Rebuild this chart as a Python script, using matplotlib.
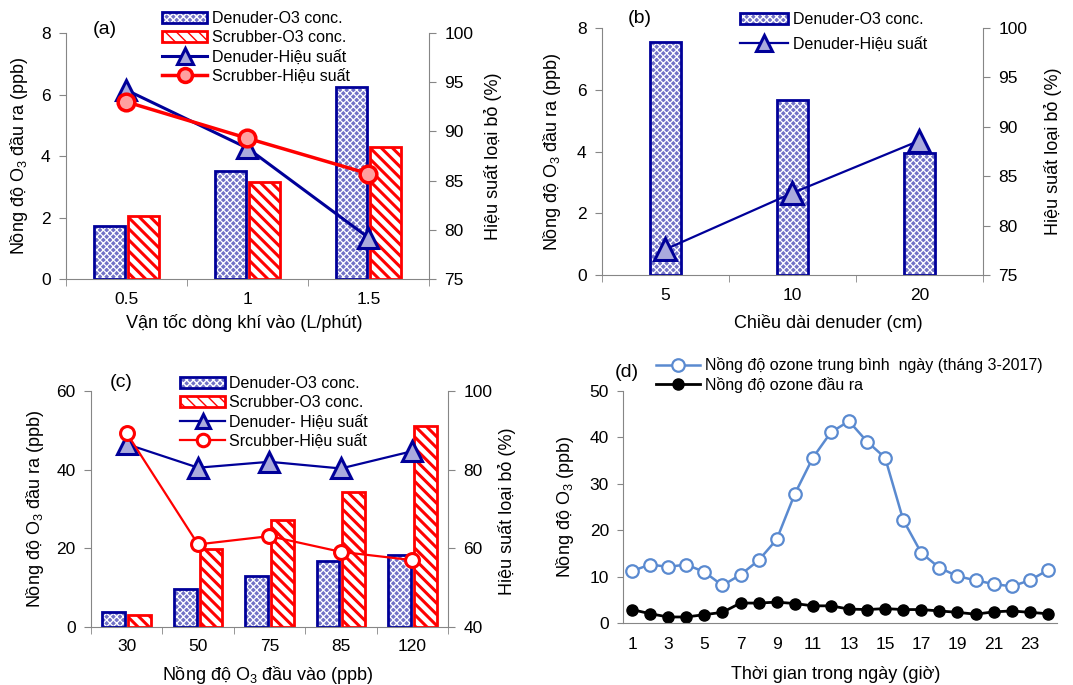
#!/usr/bin/env python3
import matplotlib
matplotlib.use('Agg')
import matplotlib.pyplot as plt
from matplotlib.lines import Line2D
from matplotlib.patches import Patch
import numpy as np

plt.rcParams['font.family'] = ['Liberation Sans', 'DejaVu Sans']
plt.rcParams['mathtext.fontset'] = 'custom'
plt.rcParams['mathtext.rm'] = 'Liberation Sans'
plt.rcParams['mathtext.it'] = 'Liberation Sans:italic'
plt.rcParams['mathtext.bf'] = 'Liberation Sans:bold'

# ---- data ----
# (a) flow rate
flow_labels = ['0.5', '1', '1.5']
flow_den_conc = [1.72, 3.5, 6.24]
flow_scr_conc = [2.05, 3.15, 4.28]
flow_den_eff = [94.2, 88.3, 79.2]
flow_scr_eff = [93.0, 89.3, 85.7]

# (b) denuder length
len_labels = ['5', '10', '20']
len_den_conc = [7.54, 5.66, 3.94]
len_den_eff = [77.6, 83.3, 88.6]

# (c) inlet concentration
inlet_labels = ['30', '50', '75', '85', '120']
inlet_den_conc = [3.8, 9.75, 13.05, 16.8, 18.2]
inlet_scr_conc = [3.0, 19.7, 27.1, 34.3, 51.0]
inlet_den_eff = [86.5, 80.5, 82.0, 80.3, 84.7]
inlet_scr_eff = [89.3, 61.0, 63.1, 59.1, 57.0]

# (d) daily profile
hours = list(range(1, 25))
ozone_mean = [11.2, 12.6, 12.1, 12.6, 11.0, 8.1, 10.4, 13.5, 18.0, 27.8, 35.6, 41.1,
              43.5, 39.1, 35.6, 22.2, 15.1, 11.9, 10.1, 9.2, 8.4, 7.9, 9.2, 11.4]
ozone_out = [2.9, 2.0, 1.3, 1.3, 1.8, 2.3, 4.3, 4.3, 4.5, 4.2, 3.7, 3.7,
             3.0, 2.9, 3.1, 2.9, 2.9, 2.6, 2.3, 1.9, 2.4, 2.6, 2.3, 2.0]

NAVY = '#000099'
RED = '#ff0000'
SPINE = '#868686'
DEN_FACE = '#7272c6'
TRI_FACE = '#aaaadd'
CIR_FACE = '#ffa0a0'
TICK_FS = 12.5
LAB_FS = 13
LEG_FS = 11.5

YL = 'Nồng độ O$_\\mathregular{3}$ đầu ra (ppb)'
YR = 'Hiệu suất loại bỏ (%)'

fig = plt.figure(figsize=(10.73, 6.85), dpi=100)


def den_bars(ax, x, h, w):
    with plt.rc_context({'hatch.linewidth': 0.9}):
        ax.bar(x, h, w, color=DEN_FACE, edgecolor='white', hatch='xxxxx', linewidth=0)
    ax.bar(x, h, w, fill=False, edgecolor=NAVY, linewidth=2)


def scr_bars(ax, x, h, w):
    with plt.rc_context({'hatch.linewidth': 2.2}):
        ax.bar(x, h, w, color='white', edgecolor=RED, hatch='\\\\\\', linewidth=2)


def den_handle():
    with plt.rc_context({'hatch.linewidth': 0.9}):
        p1 = Patch(facecolor=DEN_FACE, edgecolor='white', hatch='xxxxx', linewidth=0)
    p2 = Patch(fill=False, edgecolor=NAVY, linewidth=2)
    return (p1, p2)


def scr_handle():
    with plt.rc_context({'hatch.linewidth': 2.2}):
        return Patch(facecolor='white', edgecolor=RED, hatch='\\\\\\', linewidth=2)


def style_cat(ax, ax2, n, yl, yr, ylab_pos, yrlab_pos, xlab_pos):
    ax.set_xlim(-0.5, n - 0.5)
    ax.set_xticks(range(n))
    ax.set_xticks(np.arange(-0.5, n, 1.0), minor=True)
    ax.tick_params(axis='x', which='major', length=0, pad=9, labelsize=TICK_FS)
    ax.tick_params(axis='x', which='minor', length=5, color=SPINE, direction='out')
    ax.tick_params(axis='y', length=5, color=SPINE, pad=6, labelsize=TICK_FS)
    ax2.tick_params(axis='y', length=5, color=SPINE, pad=6, labelsize=TICK_FS)
    for s in ['top', 'right']:
        ax.spines[s].set_visible(False)
    for s in ['left', 'bottom']:
        ax.spines[s].set_color(SPINE)
    for s in ['top', 'left', 'bottom']:
        ax2.spines[s].set_visible(False)
    ax2.spines['right'].set_color(SPINE)
    ax.set_ylabel(yl, fontsize=LAB_FS)
    ax2.set_ylabel(yr, fontsize=LAB_FS)
    ax.yaxis.set_label_coords(*ylab_pos)
    ax2.yaxis.set_label_coords(*yrlab_pos)
    ax.xaxis.set_label_coords(*xlab_pos)


def tri(color, ms, lw):
    return dict(color=color, lw=lw, marker='^', ms=ms, mfc=TRI_FACE, mec=color, mew=2.2)


# ---------------- (a) ----------------
axa = fig.add_axes([0.0615, 0.5927, 0.3383, 0.3591])
axa2 = axa.twinx()
xa = np.arange(len(flow_labels))
den_bars(axa, xa - 0.14, flow_den_conc, 0.25)
scr_bars(axa, xa + 0.14, flow_scr_conc, 0.25)
axa2.plot(xa, flow_den_eff, **tri(NAVY, 15, 2.2))
axa2.plot(xa, flow_scr_eff, color=RED, lw=2.5, marker='o', ms=12, mfc=CIR_FACE, mec=RED, mew=2.5)
axa.set_ylim(0, 8)
axa.set_yticks([0, 2, 4, 6, 8])
axa2.set_ylim(75, 100)
axa2.set_yticks([75, 80, 85, 90, 95, 100])
axa.set_xticklabels(flow_labels)
axa.set_xlabel('Vận tốc dòng khí vào (L/phút)', fontsize=LAB_FS)
style_cat(axa, axa2, 3, YL, YR, (-0.099, 0.5), (1.152, 0.5), (0.49, -0.142))
axa.text(0.074, 1.016, '(a)', transform=axa.transAxes, fontsize=14, va='center')
ha = [den_handle(), scr_handle(),
      Line2D([], [], **tri(NAVY, 11, 2.2)),
      Line2D([], [], color=RED, lw=2.5, marker='o', ms=10, mfc=CIR_FACE, mec=RED, mew=2.5)]
axa2.legend(ha, ['Denuder-O3 conc.', 'Scrubber-O3 conc.', 'Denuder-Hiệu suất', 'Scrubber-Hiệu suất'],
            loc='upper left', bbox_to_anchor=(0.264, 1.088), frameon=False, fontsize=LEG_FS,
            handlelength=2.85, handleheight=0.7, handletextpad=0.3, labelspacing=0.25,
            borderpad=0, borderaxespad=0)

# ---------------- (b) ----------------
axb = fig.add_axes([0.561, 0.5985, 0.355, 0.3606])
axb2 = axb.twinx()
xb = np.arange(len(len_labels))
den_bars(axb, xb, len_den_conc, 0.245)
axb2.plot(xb, len_den_eff, **tri(NAVY, 16, 1.6))
axb.set_ylim(0, 8)
axb.set_yticks([0, 2, 4, 6, 8])
axb2.set_ylim(75, 100)
axb2.set_yticks([75, 80, 85, 90, 95, 100])
axb.set_xticklabels(len_labels)
axb.set_xlabel('Chiều dài denuder (cm)', fontsize=LAB_FS)
style_cat(axb, axb2, 3, YL, YR, (-0.102, 0.5), (1.160, 0.5), (0.593, -0.158))
axb.text(0.068, 1.04, '(b)', transform=axb.transAxes, fontsize=14, va='center')
hb = [den_handle(), Line2D([], [], **tri(NAVY, 11, 1.6))]
axb2.legend(hb, ['Denuder-O3 conc.', 'Denuder-Hiệu suất'],
            loc='upper left', bbox_to_anchor=(0.363, 1.065), frameon=False, fontsize=LEG_FS,
            handlelength=3.0, handleheight=0.7, handletextpad=0.3, labelspacing=0.6,
            borderpad=0, borderaxespad=0)

# ---------------- (c) ----------------
axc = fig.add_axes([0.0848, 0.0847, 0.3327, 0.3445])
axc2 = axc.twinx()
xc = np.arange(len(inlet_labels))
den_bars(axc, xc - 0.18, inlet_den_conc, 0.32)
scr_bars(axc, xc + 0.18, inlet_scr_conc, 0.32)
axc2.plot(xc, inlet_den_eff, **tri(NAVY, 14, 1.6))
axc2.plot(xc, inlet_scr_eff, color=RED, lw=1.6, marker='o', ms=10, mfc='white', mec=RED, mew=2.2)
axc.set_ylim(0, 60)
axc.set_yticks([0, 20, 40, 60])
axc2.set_ylim(40, 100)
axc2.set_yticks([40, 60, 80, 100])
axc.set_xticklabels(inlet_labels)
axc.set_xlabel('Nồng độ O$_\\mathregular{3}$ đầu vào (ppb)', fontsize=LAB_FS)
style_cat(axc, axc2, 5, YL, YR, (-0.125, 0.5), (1.140, 0.49), (0.496, -0.157))
axc.text(0.053, 1.034, '(c)', transform=axc.transAxes, fontsize=14, va='center')
hc = [den_handle(), scr_handle(),
      Line2D([], [], **tri(NAVY, 10, 1.6)),
      Line2D([], [], color=RED, lw=1.6, marker='o', ms=9, mfc='white', mec=RED, mew=2.2)]
axc2.legend(hc, ['Denuder-O3 conc.', 'Scrubber-O3 conc.', 'Denuder- Hiệu suất', 'Srcubber-Hiệu suất'],
            loc='upper left', bbox_to_anchor=(0.25, 1.062), frameon=False, fontsize=LEG_FS,
            handlelength=2.8, handleheight=0.7, handletextpad=0.25, labelspacing=0.25,
            borderpad=0, borderaxespad=0)

# ---------------- (d) ----------------
axd = fig.add_axes([0.5806, 0.0905, 0.4044, 0.3387])
axd.plot(hours, ozone_mean, color='#5a8ad0', lw=1.8, marker='o', ms=9, mfc='white',
         mec='#5a8ad0', mew=1.6, label='Nồng độ ozone trung bình  ngày (tháng 3-2017)')
axd.plot(hours, ozone_out, color='black', lw=2, marker='o', ms=8, mfc='black', mec='black',
         label='Nồng độ ozone đầu ra')
axd.set_xlim(0.5, 24.5)
axd.set_ylim(0, 50)
axd.set_xticks(range(1, 24, 2))
axd.set_yticks(range(0, 51, 10))
axd.tick_params(axis='x', length=0, pad=10, labelsize=TICK_FS)
axd.tick_params(axis='y', length=4, color=SPINE, pad=6, labelsize=TICK_FS)
for s in ['top', 'right']:
    axd.spines[s].set_visible(False)
for s in ['left', 'bottom']:
    axd.spines[s].set_color(SPINE)
axd.set_ylabel('Nồng độ O$_\\mathregular{3}$ (ppb)', fontsize=LAB_FS)
axd.yaxis.set_label_coords(-0.108, 0.5)
axd.set_xlabel('Thời gian trong ngày (giờ)', fontsize=LAB_FS)
axd.xaxis.set_label_coords(0.49, -0.185)
axd.text(-0.02, 1.08, '(d)', transform=axd.transAxes, fontsize=14, va='center')
axd.legend(loc='upper left', bbox_to_anchor=(0.075, 1.145), frameon=False, fontsize=LEG_FS,
           handlelength=2.8, handletextpad=0.3, labelspacing=0.2, borderpad=0, borderaxespad=0)

plt.savefig('out.png', dpi=100)
plt.close()
